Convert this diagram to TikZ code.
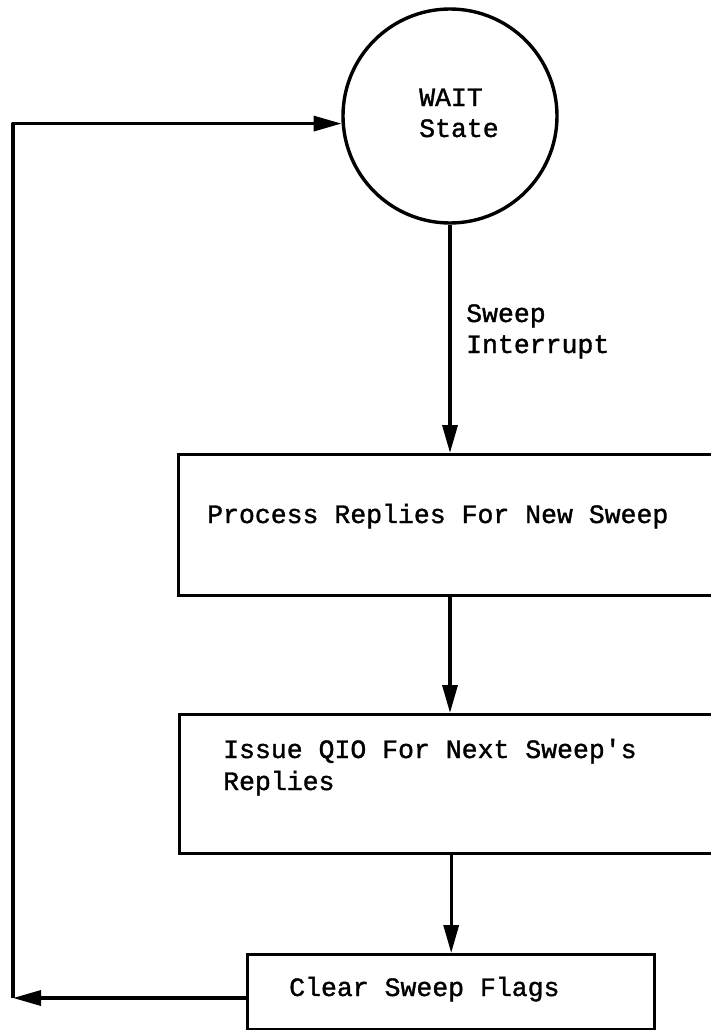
\documentclass[tikz,border=0pt]{standalone}
\usepackage{fontspec}
\newfontfamily\typer[FakeBold=1.3]{Liberation Mono}
\usetikzlibrary{arrows.meta}

\tikzset{
  line/.style={line width=3.4pt},
  flow/.style={line, -{Triangle[length=28pt,width=15pt]}},
  stepbox/.style={draw, line width=3.4pt, rectangle, anchor=north west, inner sep=0pt},
  lbl/.style={inner sep=0pt, anchor=base west, align=left,
    font=\typer\fontsize{26.5}{31}\selectfont},
}

\begin{document}
\begin{tikzpicture}[x=1pt,y=-1pt]
  \useasboundingbox (0,0) rectangle (711,1030);
  \clip (0,0) rectangle (711,1030);

  % state circle
  \node[draw, line width=3.4pt, circle, minimum size=214pt, inner sep=0pt] (wait) at (450,116) {};
  % (base anchor of a two-line label sits on its last line)
  \node[lbl] (waitlbl) at (419,137) {WAIT\\State};

  % process boxes (the two upper ones run off the right edge)
  \node[stepbox, minimum width=620pt, minimum height=141pt] (proc) at (177,453) {};
  \node[lbl] (proclbl) at (207,523) {Process Replies For New Sweep};

  \node[stepbox, minimum width=620pt, minimum height=139pt] (issue) at (178,713) {};
  \node[lbl, font=\typer\fontsize{26.5}{32}\selectfont] (issuelbl) at (223,790)
    {Issue QIO For Next Sweep's\\Replies};

  \node[stepbox, minimum width=407pt, minimum height=75pt] (clear) at (246,953) {};
  \node[lbl] (clearlbl) at (289,996) {Clear Sweep Flags};

  % edge label
  \node[lbl] (sweeplbl) at (466,353) {Sweep\\Interrupt};

  % corner points of the return path
  \coordinate (cbot) at (13,998);
  \coordinate (ctop) at (13,0 |- wait.184);

  % downward flow
  \draw[flow] (wait.south) -- (wait.south |- proc.north);
  \draw[flow] (wait.south |- proc.south) -- (wait.south |- issue.north);
  \draw[flow] (clear.north |- issue.south) -- (clear.north);

  % return path to the wait state
  \draw[flow] (clear.west |- cbot) -- (cbot);
  \draw[flow, line join=round] (cbot) -- (ctop) -- (wait.184);
\end{tikzpicture}
\end{document}
